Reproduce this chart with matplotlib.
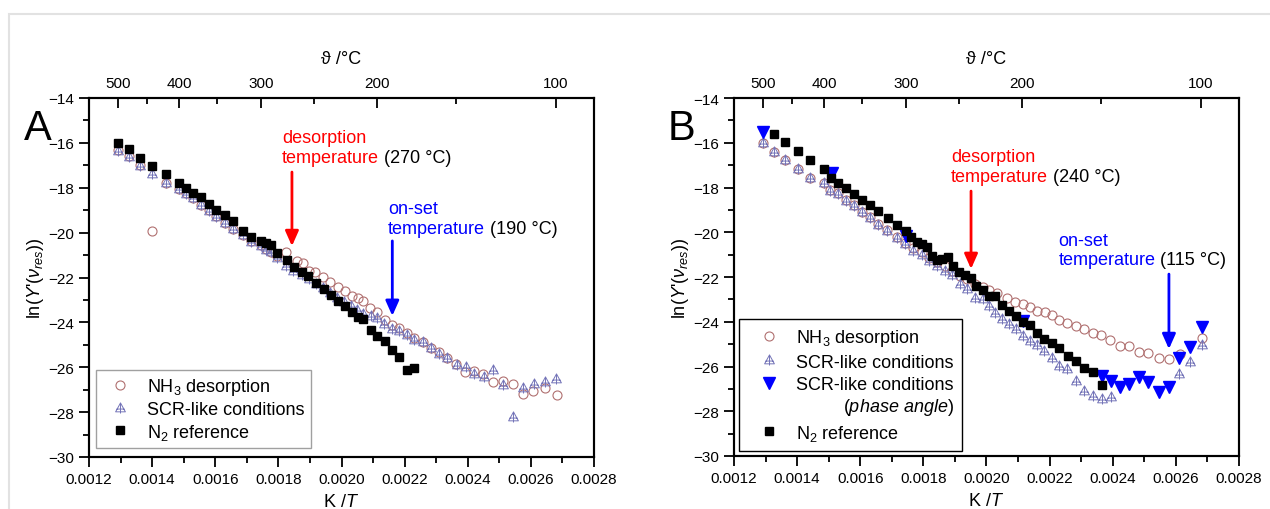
import matplotlib.pyplot as plt
from matplotlib.path import Path
from matplotlib.patches import Rectangle
from matplotlib.ticker import MultipleLocator, FormatStrFormatter

plt.rcParams['font.family'] = ['Liberation Sans', 'DejaVu Sans']
plt.rcParams['mathtext.fontset'] = 'custom'
plt.rcParams['mathtext.rm'] = 'Liberation Sans'
plt.rcParams['mathtext.it'] = 'Liberation Sans:italic'
plt.rcParams['mathtext.bf'] = 'Liberation Sans:bold'

# ---------------- panel A data ----------------
xA_nh3 = [0.001293, 0.001328, 0.001363, 0.001401, 0.001443, 0.001484, 0.001507, 0.001530,
          0.001554, 0.001579, 0.001603, 0.001630, 0.001657, 0.001687, 0.001714, 0.001744,
          0.001760, 0.001776, 0.001795, 0.001824, 0.001858, 0.001877, 0.001898, 0.001916,
          0.001941, 0.001964, 0.001989, 0.002011, 0.002033, 0.002052, 0.002069, 0.002091,
          0.002113, 0.002138, 0.002161, 0.002183, 0.002209, 0.002231, 0.002257, 0.002283,
          0.002309, 0.002335, 0.002363, 0.002391, 0.002421, 0.002449, 0.002481, 0.002513,
          0.002544, 0.002576, 0.002608, 0.002644, 0.002683]
yA_nh3 = [-16.30, -16.60, -17.00, -19.91, -17.78, -18.05, -18.25, -18.45,
          -18.75, -19.00, -19.27, -19.55, -19.82, -20.10, -20.38, -20.55,
          -20.72, -20.85, -21.05, -20.87, -21.25, -21.37, -21.70, -21.74,
          -21.98, -22.20, -22.42, -22.60, -22.82, -22.90, -23.03, -23.36,
          -23.55, -23.88, -24.10, -24.25, -24.49, -24.68, -24.89, -25.14,
          -25.31, -25.60, -25.85, -26.20, -26.15, -26.30, -26.67, -26.60,
          -26.75, -27.19, -27.04, -26.94, -27.22]

xA_scr = [0.001293, 0.001328, 0.001363, 0.001401, 0.001443, 0.001484, 0.001507, 0.001530,
          0.001554, 0.001579, 0.001603, 0.001630, 0.001657, 0.001687, 0.001714, 0.001744,
          0.001760, 0.001776, 0.001795, 0.001824, 0.001847, 0.001874, 0.001897, 0.001919,
          0.001941, 0.001964, 0.001986, 0.002008, 0.002030, 0.002049, 0.002069, 0.002093,
          0.002113, 0.002135, 0.002161, 0.002183, 0.002207, 0.002231, 0.002257, 0.002283,
          0.002309, 0.002335, 0.002365, 0.002394, 0.002421, 0.002452, 0.002481, 0.002513,
          0.002544, 0.002576, 0.002610, 0.002645, 0.002680]
yA_scr = [-16.35, -16.64, -17.04, -17.39, -17.80, -18.06, -18.28, -18.47,
          -18.77, -19.02, -19.29, -19.57, -19.84, -20.11, -20.40, -20.58,
          -20.76, -20.88, -21.14, -21.47, -21.70, -21.89, -22.07, -22.29,
          -22.47, -22.69, -22.91, -23.09, -23.27, -23.45, -23.63, -23.70,
          -23.82, -24.07, -24.29, -24.37, -24.56, -24.78, -24.89, -25.14,
          -25.41, -25.60, -25.90, -26.00, -26.30, -26.45, -26.11, -26.79,
          -28.23, -26.93, -26.75, -26.67, -26.52]

xA_n2 = [0.001293, 0.001328, 0.001363, 0.001401, 0.001443, 0.001484, 0.001507, 0.001530,
         0.001554, 0.001579, 0.001603, 0.001630, 0.001657, 0.001687, 0.001714, 0.001744,
         0.001760, 0.001776, 0.001795, 0.001826, 0.001850, 0.001875, 0.001894, 0.001919,
         0.001945, 0.001967, 0.001989, 0.002011, 0.002033, 0.002052, 0.002069, 0.002093,
         0.002113, 0.002137, 0.002159, 0.002182, 0.002207, 0.002231]
yA_n2 = [-16.00, -16.29, -16.66, -17.04, -17.39, -17.80, -18.02, -18.23,
         -18.43, -18.72, -19.00, -19.20, -19.48, -19.91, -20.21, -20.36,
         -20.47, -20.54, -20.91, -21.22, -21.54, -21.74, -21.95, -22.24,
         -22.51, -22.78, -23.05, -23.27, -23.54, -23.76, -23.85, -24.34,
         -24.59, -24.82, -25.23, -25.53, -26.12, -26.02]

# ---------------- panel B data ----------------
xB_nh3 = [0.001293, 0.001327, 0.001363, 0.001402, 0.001441, 0.001484, 0.001504, 0.001529,
          0.001555, 0.001579, 0.001605, 0.001631, 0.001657, 0.001684, 0.001715, 0.001742,
          0.001767, 0.001795, 0.001818, 0.001843, 0.001869, 0.001891, 0.001916, 0.001939,
          0.001964, 0.001988, 0.002009, 0.002032, 0.002064, 0.002090, 0.002115, 0.002138,
          0.002161, 0.002185, 0.002207, 0.002231, 0.002256, 0.002283, 0.002309, 0.002337,
          0.002362, 0.002391, 0.002423, 0.002451, 0.002483, 0.002513, 0.002547, 0.002578,
          0.002613, 0.002682]
yB_nh3 = [-16.00, -16.40, -16.75, -17.16, -17.57, -17.80, -18.12, -18.25,
          -18.55, -18.78, -19.08, -19.33, -19.62, -19.92, -20.22, -20.47,
          -20.72, -20.90, -21.15, -21.35, -21.50, -21.75, -21.95, -22.10,
          -22.30, -22.45, -22.57, -22.72, -22.94, -23.10, -23.21, -23.35,
          -23.51, -23.55, -23.69, -23.92, -24.06, -24.20, -24.32, -24.52,
          -24.59, -24.80, -25.07, -25.10, -25.37, -25.40, -25.62, -25.66,
          -25.44, -24.74]

xB_scr = [0.001293, 0.001327, 0.001363, 0.001402, 0.001441, 0.001484, 0.001504, 0.001529,
          0.001555, 0.001579, 0.001605, 0.001631, 0.001657, 0.001684, 0.001715, 0.001742,
          0.001767, 0.001795, 0.001818, 0.001843, 0.001869, 0.001891, 0.001916, 0.001939,
          0.001964, 0.001988, 0.002009, 0.002027, 0.002048, 0.002071, 0.002093, 0.002115,
          0.002138, 0.002161, 0.002183, 0.002208, 0.002231, 0.002256, 0.002283, 0.002309,
          0.002336, 0.002365, 0.002394, 0.002610, 0.002645, 0.002682]
yB_scr = [-16.01, -16.40, -16.76, -17.17, -17.59, -17.81, -18.17, -18.29,
          -18.59, -18.81, -19.11, -19.36, -19.66, -19.96, -20.27, -20.53,
          -20.82, -21.00, -21.29, -21.51, -21.73, -21.91, -22.31, -22.54,
          -22.95, -22.98, -23.31, -23.62, -23.88, -24.10, -24.32, -24.62,
          -24.87, -25.04, -25.29, -25.63, -25.96, -26.11, -26.66, -27.11,
          -27.31, -27.45, -27.38, -26.34, -25.79, -25.04]

xB_phase = [0.001291, 0.001510, 0.001745, 0.002117, 0.002365, 0.002394, 0.002423, 0.002451,
            0.002483, 0.002513, 0.002547, 0.002578, 0.002610, 0.002645, 0.002682]
yB_phase = [-15.51, -17.37, -20.15, -23.95, -26.41, -26.63, -26.93, -26.78,
            -26.48, -26.68, -27.15, -26.90, -25.63, -25.14, -24.25]

xB_n2 = [0.001327, 0.001363, 0.001402, 0.001441, 0.001484, 0.001507, 0.001530, 0.001555,
         0.001579, 0.001605, 0.001631, 0.001657, 0.001687, 0.001715, 0.001745, 0.001762,
         0.001779, 0.001795, 0.001811, 0.001826, 0.001842, 0.001858, 0.001877, 0.001895,
         0.001914, 0.001932, 0.001950, 0.001967, 0.001988, 0.002009, 0.002027, 0.002048,
         0.002071, 0.002093, 0.002115, 0.002138, 0.002161, 0.002183, 0.002208, 0.002231,
         0.002257, 0.002283, 0.002310, 0.002337, 0.002365]
yB_n2 = [-15.61, -15.98, -16.38, -16.76, -17.17, -17.59, -17.81, -18.04,
         -18.30, -18.55, -18.78, -19.05, -19.36, -19.66, -19.93, -20.23,
         -20.45, -20.53, -20.67, -21.05, -21.24, -21.20, -21.09, -21.52,
         -21.76, -21.90, -22.06, -22.39, -22.57, -22.84, -22.84, -23.24,
         -23.51, -23.76, -24.00, -24.15, -24.50, -24.77, -24.95, -25.19,
         -25.54, -25.74, -26.08, -26.23, -26.81]

# top axis temperatures
temp_major = [500, 400, 300, 200, 100]
temp_minor = [450, 350, 250, 150]

c_nh3 = '#b07070'
c_scr = '#7474b8'

# triangle with a cross inside
tri_plus = Path([(0, 1), (-0.88, -0.6), (0.88, -0.6), (0, 1),
                 (0, 1), (0, -0.9), (-0.72, -0.1), (0.72, -0.1)],
                [Path.MOVETO, Path.LINETO, Path.LINETO, Path.CLOSEPOLY,
                 Path.MOVETO, Path.LINETO, Path.MOVETO, Path.LINETO])

fig = plt.figure(figsize=(12.7, 5.1), dpi=100)
fig.patches.append(Rectangle((9 / 1270, -0.1), 1.2, 1 - 15 / 510 + 0.1,
                             transform=fig.transFigure, fill=False,
                             edgecolor='#e2e2e2', lw=1.5))

axA = fig.add_axes([89 / 1270, 1 - 458 / 510, 505 / 1270, 359 / 510])
axB = fig.add_axes([734 / 1270, 1 - 457 / 510, 505 / 1270, 358 / 510])


def style_axes(ax):
    ax.set_xlim(0.0012, 0.0028)
    ax.set_ylim(-30, -14)
    ax.xaxis.set_major_locator(MultipleLocator(0.0002))
    ax.xaxis.set_minor_locator(MultipleLocator(0.0001))
    ax.xaxis.set_major_formatter(FormatStrFormatter('%.4f'))
    ax.yaxis.set_major_locator(MultipleLocator(2))
    ax.yaxis.set_minor_locator(MultipleLocator(1))
    ax.tick_params(which='major', direction='out', length=7, width=1.3, labelsize=11)
    ax.tick_params(which='minor', direction='out', length=4, width=1.3)
    for s in ax.spines.values():
        s.set_linewidth(1.5)
    ax.set_xlabel(r'K /$T$', fontsize=13, labelpad=5)
    ax.set_ylabel(r"ln($Y$'($\nu_{res}$))", fontsize=13, labelpad=2)

    top = ax.twiny()
    top.set_xlim(ax.get_xlim())
    top.set_xticks([1 / (t + 273.15) for t in temp_major])
    top.set_xticklabels([str(t) for t in temp_major])
    top.set_xticks([1 / (t + 273.15) for t in temp_minor], minor=True)
    top.tick_params(which='major', direction='in', length=7, width=1.3, labelsize=11, pad=6)
    top.tick_params(which='minor', direction='in', length=4, width=1.3)
    for s in top.spines.values():
        s.set_linewidth(1.5)
    top.set_xlabel('ϑ /°C', fontsize=13, labelpad=9)


def add_note(ax, x, y1, y2, line1, line2, value, color):
    ax.text(x, y1, line1, color=color, fontsize=13)
    t2 = ax.text(x, y2, line2, color=color, fontsize=13)
    ax.annotate(' (' + value + ' °C)', xy=(1, 0), xycoords=t2,
                va='bottom', ha='left', fontsize=13, color='black')


def add_arrow(ax, x, ytop, ytip, color):
    ax.annotate('', xy=(x, ytip), xytext=(x, ytop),
                arrowprops=dict(arrowstyle='-|>,head_length=0.9,head_width=0.4',
                                color=color, lw=2, shrinkA=0, shrinkB=0))


# ---------- panel A ----------
style_axes(axA)
hA1, = axA.plot(xA_nh3, yA_nh3, 'o', ms=6.5, mfc='none', mec=c_nh3, mew=0.8, ls='none')
hA2, = axA.plot(xA_scr, yA_scr, marker=tri_plus, ms=8, mfc='none', mec=c_scr, mew=0.7, ls='none')
hA3, = axA.plot(xA_n2, yA_n2, 's', ms=6, color='black', ls='none')
add_note(axA, 0.001811, -15.96, -16.85, 'desorption', 'temperature', '270', 'red')
add_arrow(axA, 0.001843, -17.30, -20.60, 'red')
add_note(axA, 0.002148, -19.12, -20.02, 'on-set', 'temperature', '190', 'blue')
add_arrow(axA, 0.002161, -20.37, -23.71, 'blue')
legA = axA.legend([hA1, hA2, hA3],
                  ['NH$_3$ desorption', 'SCR-like conditions', 'N$_2$ reference'],
                  loc='lower left', bbox_to_anchor=(0.013, 0.025), borderaxespad=0,
                  fancybox=False, edgecolor='#a0a0a0', framealpha=1, fontsize=13,
                  handlelength=2.0, handletextpad=0.5, borderpad=0.35, labelspacing=0.2)
legA.get_frame().set_linewidth(1.0)

# ---------- panel B ----------
style_axes(axB)
hB1, = axB.plot(xB_nh3, yB_nh3, 'o', ms=6.5, mfc='none', mec=c_nh3, mew=0.8, ls='none')
hB2, = axB.plot(xB_scr, yB_scr, marker=tri_plus, ms=8, mfc='none', mec=c_scr, mew=0.7, ls='none')
hB3, = axB.plot(xB_phase, yB_phase, 'v', ms=8, color='#0000ff', ls='none')
hB4, = axB.plot(xB_n2, yB_n2, 's', ms=6, color='black', ls='none')
add_note(axB, 0.001888, -16.82, -17.71, 'desorption', 'temperature', '240', 'red')
add_arrow(axB, 0.001951, -18.16, -21.64, 'red')
add_note(axB, 0.002228, -20.57, -21.42, 'on-set', 'temperature', '115', 'blue')
add_arrow(axB, 0.002578, -21.87, -25.22, 'blue')
legB = axB.legend([hB1, hB2, hB3, hB4],
                  ['NH$_3$ desorption', 'SCR-like conditions',
                   'SCR-like conditions\n($\\mathit{phase\\ angle}$)', 'N$_2$ reference'],
                  loc='lower left', bbox_to_anchor=(0.0105, 0.015), borderaxespad=0,
                  fancybox=False, edgecolor='black', framealpha=1, fontsize=13,
                  handlelength=2.4, handletextpad=0.3, borderpad=0.45, labelspacing=0.3)
legB.get_frame().set_linewidth(1.0)
for t in legB.get_texts():
    if 'phase' in t.get_text():
        t.set_multialignment('right')
# put the phase-angle marker level with the first line of its label
ph = legB.legend_handles[2]
ph.set_ydata([y + 10 for y in ph.get_ydata()])

fig.text(24 / 1270, 1 - 140 / 510, 'A', fontsize=30)
fig.text(668 / 1270, 1 - 140 / 510, 'B', fontsize=30)

fig.savefig('out.png', dpi=100)
